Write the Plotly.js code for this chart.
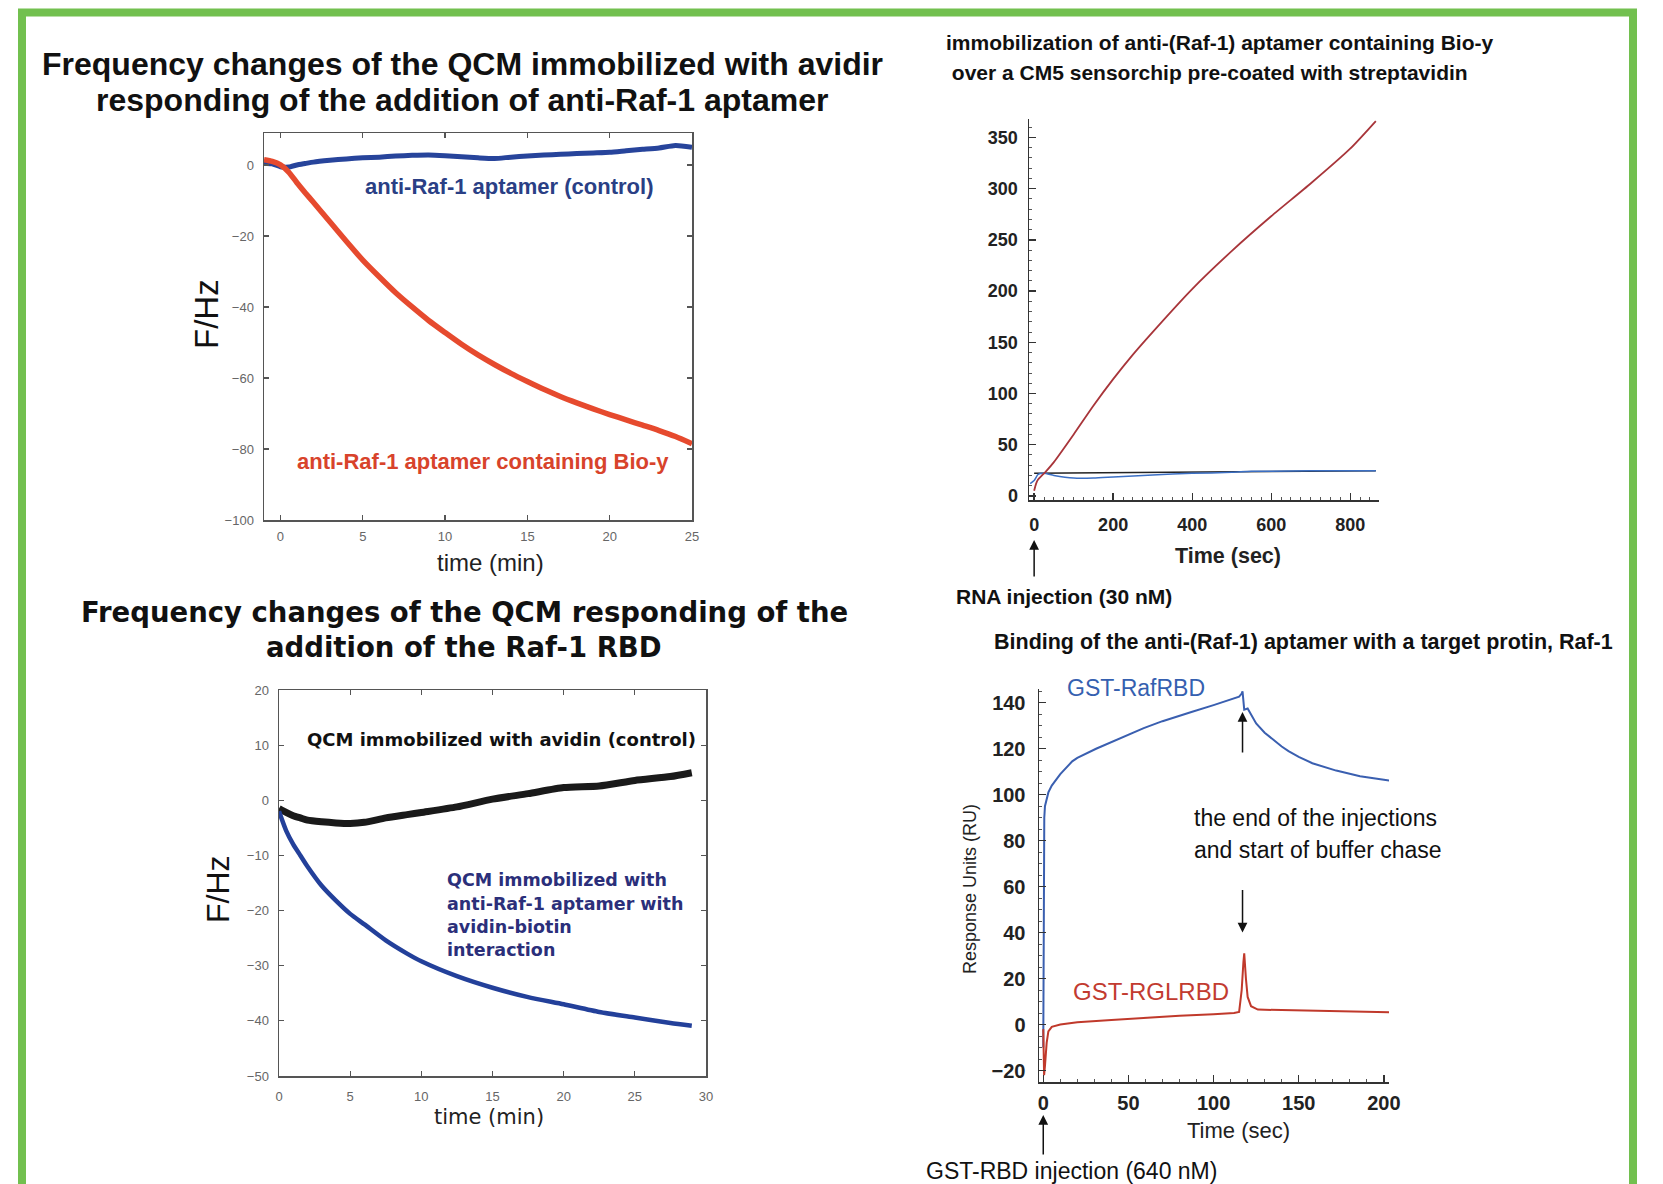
<!DOCTYPE html>
<html>
<head>
<meta charset="utf-8">
<script src="https://cdn.plot.ly/plotly-3.0.1.min.js"></script>
<style>html,body{margin:0;padding:0;background:#fff;}#chart{width:1663px;height:1184px;}</style>
</head>
<body>
<div id="chart"></div>
<script>
// ---- Panel 1: QCM with avidin, addition of anti-Raf-1 aptamer ----
const p1Time = [-1,-0.5,0,0.5,1,1.5,2,3,4,5,6,7,8,9,10,11,12,13,14,15,16,17,18,19,20,21,22,23,24,25];
const p1Control = [0.5,0.3,-0.5,-0.6,0,0.4,0.8,1.3,1.7,2.0,2.2,2.5,2.7,2.8,2.6,2.3,2.0,1.8,2.2,2.5,2.8,3.0,3.2,3.4,3.6,4.0,4.4,4.8,5.5,5.0];
const p1Bio = [1.5,1.0,0,-2,-5,-7.8,-10.5,-16,-21.5,-26.8,-31.5,-36,-40,-43.8,-47.2,-50.5,-53.5,-56.2,-58.7,-61,-63.2,-65.2,-67,-68.7,-70.3,-71.8,-73.3,-74.8,-76.5,-78.5];
const p1XTicks = [0,5,10,15,20,25];
const p1YTicks = [0,-20,-40,-60,-80,-100];

// ---- Panel 2: QCM responding to Raf-1 RBD ----
const p2Time = [0,0.5,1,1.5,2,3,4,5,6,7.5,9,10,12.5,15,17.5,20,22.5,25,27.5,29];
const p2Control = [-1.5,-2.2,-2.8,-3.2,-3.6,-3.9,-4.1,-4.2,-4.0,-3.2,-2.6,-2.2,-1.2,0.2,1.2,2.3,2.6,3.6,4.3,5.0];
const p2Aptamer = [-2,-5.5,-8,-10,-12,-15.5,-18.2,-20.6,-22.5,-25.4,-27.8,-29.2,-31.9,-34,-35.7,-37,-38.4,-39.4,-40.4,-40.9];
const p2XTicks = [0,5,10,15,20,25,30];
const p2YTicks = [20,10,0,-10,-20,-30,-40,-50];

// ---- Panel 3: immobilization on CM5 sensorchip ----
const p3BioTime = [0,5,10,20,30,50,100,150,200,250,300,400,500,600,700,800,865];
const p3Bio = [5,12,16,20,24,33,60,88,114,138,160,202,239,273,305,339,366];
const p3CtrlTime = [-10,0,10,25,50,100,150,200,300,400,500,550,600,700,865];
const p3Ctrl = [12,15,21,22,20,17.5,17.5,18.5,20.5,22,23,24,24,24.5,24.5];
const p3RefTime = [0,865];
const p3Ref = [22,24.5];

// ---- Panel 4: binding with target protein ----
const p4RafTime = [0,0.3,0.6,1,2,3,5,10,17,20,31,40,50,59,70,80,87,100,110,115,116.5,117,118,120,125,130,140,144,150,158,172,186,200,205];
const p4Raf = [-10,60,90,95,98,101,104,109,114.5,116,120,123,126,129,132,134.5,136,139,141.5,142.7,144,145,137,137.5,131,127,121,119,116.5,113.7,110.5,108,106.5,106];
const p4RglTime = [0,0.5,1,2,3,5,10,20,40,60,80,100,112,115,116.5,117.5,118,119,120,122,126,140,160,180,200,205];
const p4Rgl = [-2,-22,-18,-8,-3,-1,0,1,2,3,3.8,4.5,5,5.5,15,27,31,20,12,8,6.5,6.3,6,5.8,5.5,5.3];

const W = 1663, H = 1184;
const px = v => v / W;
const py = v => 1 - v / H;
const SANS = 'Liberation Sans, Arial, sans-serif';
const WIDE = 'DejaVu Sans, Verdana, sans-serif';

const traces = [
  {x:p1Time, y:p1Control, xaxis:'x', yaxis:'y', mode:'lines', line:{color:'#27449b', width:5, shape:'spline', smoothing:0.6}},
  {x:p1Time, y:p1Bio, xaxis:'x', yaxis:'y', mode:'lines', line:{color:'#e64a2e', width:5.5, shape:'spline', smoothing:0.6}},
  {x:p2Time, y:p2Control, xaxis:'x2', yaxis:'y2', mode:'lines', line:{color:'#1a1a1a', width:7, shape:'spline', smoothing:0.6}},
  {x:p2Time, y:p2Aptamer, xaxis:'x2', yaxis:'y2', mode:'lines', line:{color:'#23409a', width:4.5, shape:'spline', smoothing:0.6}},
  {x:p3RefTime, y:p3Ref, xaxis:'x3', yaxis:'y3', mode:'lines', line:{color:'#222', width:1.5}},
  {x:p3CtrlTime, y:p3Ctrl, xaxis:'x3', yaxis:'y3', mode:'lines', line:{color:'#3b6fc4', width:1.5, shape:'spline', smoothing:0.6}},
  {x:p3BioTime, y:p3Bio, xaxis:'x3', yaxis:'y3', mode:'lines', line:{color:'#a8353a', width:1.8, shape:'spline', smoothing:0.6}},
  {x:p4RafTime, y:p4Raf, xaxis:'x4', yaxis:'y4', mode:'lines', line:{color:'#3a5fb0', width:2}},
  {x:p4RglTime, y:p4Rgl, xaxis:'x4', yaxis:'y4', mode:'lines', line:{color:'#c0392b', width:2}}
];

const smallTick = {family:SANS, size:13, color:'#666'};
const tick3 = {family:SANS, size:18, color:'#222', weight:'bold'};
const tick4 = {family:SANS, size:20, color:'#222', weight:'bold'};

function boxAxis(domain, range, vals, standoff){
  return {domain:domain, range:range, tickmode:'array', tickvals:vals, ticks:'inside', ticklen:5,
    tickcolor:'#555', tickwidth:1.2, showline:true, linecolor:'#555', linewidth:1.5, mirror:'ticks',
    showgrid:false, zeroline:false, tickfont:smallTick, ticklabelstandoff:standoff, fixedrange:true};
}
function openAxis(domain, range, dtick, minor, standoff, font){
  return {domain:domain, range:range, tick0:0, dtick:dtick, ticks:'inside', ticklen:7, tickwidth:1.3,
    tickcolor:'#333', showline:true, linecolor:'#333', linewidth:1.5, mirror:false,
    minor:{dtick:minor, ticks:'inside', ticklen:3, tickcolor:'#555', tickwidth:1},
    showgrid:false, zeroline:false, tickfont:font, ticklabelstandoff:standoff, fixedrange:true};
}

const layout = {
  width:W, height:H, margin:{l:0,r:0,t:0,b:0}, showlegend:false,
  paper_bgcolor:'#fff', plot_bgcolor:'rgba(0,0,0,0)',
  xaxis: Object.assign(boxAxis([px(264),px(692)],[-1,25],p1XTicks,4),{anchor:'y'}),
  yaxis: Object.assign(boxAxis([py(520),py(133)],[-100,9],p1YTicks,6),{anchor:'x'}),
  xaxis2: Object.assign(boxAxis([px(279),px(706)],[0,30],p2XTicks,8),{anchor:'y2'}),
  yaxis2: Object.assign(boxAxis([py(1076),py(690)],[-50,20],p2YTicks,6),{anchor:'x2'}),
  xaxis3: Object.assign(openAxis([px(1029),px(1379)],[-13,873],200,25,8,tick3),{anchor:'y3'}),
  yaxis3: Object.assign(openAxis([py(500),py(119)],[-4,368],50,10,6,tick3),{anchor:'x3'}),
  xaxis4: Object.assign(openAxis([px(1039),px(1389)],[-2.5,203],50,10,2,tick4),{anchor:'y4'}),
  yaxis4: Object.assign(openAxis([py(1082),py(689)],[-25,146],20,5,8,tick4),{anchor:'x4'}),
  shapes:[
    {type:'rect', xref:'paper', yref:'paper', x0:px(22), x1:px(1633), y0:-0.05, y1:py(12.5),
     line:{color:'#72c04f', width:8}, fillcolor:'rgba(0,0,0,0)', layer:'above'}
  ],
  annotations:[]
};

const A = layout.annotations;
function txt(text, x, y, opt){
  A.push(Object.assign({text:text, xref:'paper', yref:'paper', x:px(x), y:py(y), showarrow:false,
    xanchor:'center', yanchor:'middle',
    font:{family:SANS, size:16, color:'#111'}}, opt||{}));
}

// Panel 1 texts
const t1Font = {family:SANS, size:32, color:'#111', weight:'bold'};
txt('Frequency changes of the QCM immobilized with avidir', 462, 64, {font:t1Font});
txt('responding of the addition of anti-Raf-1 aptamer', 462, 100, {font:t1Font});
txt('F/Hz', 207, 314, {textangle:-90, font:{family:SANS, size:33, color:'#111'}});
txt('time (min)', 490, 562, {font:{family:SANS, size:24, color:'#222'}});
txt('anti-Raf-1 aptamer (control)', 509, 186, {font:{family:SANS, size:22, color:'#2a3f85', weight:'bold'}});
txt('anti-Raf-1 aptamer containing Bio-y', 483, 461, {font:{family:SANS, size:22, color:'#d8432b', weight:'bold'}});

// Panel 2 texts
const t2Font = {family:WIDE, size:27.5, color:'#111', weight:'bold'};
txt('Frequency changes of the QCM responding of the', 464, 612, {font:t2Font});
txt('addition of the Raf-1 RBD', 464, 647, {font:t2Font});
txt('F/Hz', 218, 889, {textangle:-90, font:{family:SANS, size:32, color:'#111'}});
txt('time (min)', 489, 1117, {font:{family:WIDE, size:21, color:'#222'}});
txt('QCM immobilized with avidin (control)', 502, 739, {font:{family:WIDE, size:18, color:'#111', weight:'bold'}});
const navy = {family:WIDE, size:17.5, color:'#2b2f7a', weight:'bold'};
txt('QCM immobilized with', 445, 880, {xanchor:'left', font:navy});
txt('anti-Raf-1 aptamer with', 445, 904, {xanchor:'left', font:navy});
txt('avidin-biotin', 445, 927, {xanchor:'left', font:navy});
txt('interaction', 445, 950, {xanchor:'left', font:navy});

// Panel 3 texts
const t3Font = {family:SANS, size:21, color:'#111', weight:'bold'};
txt('immobilization of anti-(Raf-1) aptamer containing Bio-y', 944, 42, {xanchor:'left', font:t3Font});
txt(' over a CM5 sensorchip pre-coated with streptavidin', 944, 72, {xanchor:'left', font:t3Font});
txt('Time (sec)', 1228, 556, {font:{family:SANS, size:21.5, color:'#222', weight:'bold'}});
txt('RNA injection (30 nM)', 1064, 596, {font:{family:SANS, size:21, color:'#111', weight:'bold'}});
A.push({text:'', xref:'x3', yref:'paper', x:0, y:py(540), ax:0, ay:38, showarrow:true,
  arrowhead:2, arrowsize:1.3, arrowwidth:1.5, arrowcolor:'#111'});

// Panel 4 texts
txt('Binding of the anti-(Raf-1) aptamer with a target protin, Raf-1', 1303, 642, {font:{family:SANS, size:21.5, color:'#111', weight:'bold'}});
txt('Response Units (RU)', 970, 889, {textangle:-90, font:{family:SANS, size:18, color:'#222'}});
txt('Time (sec)', 1238, 1130, {font:{family:SANS, size:22, color:'#222'}});
txt('GST-RafRBD', 1136, 688, {font:{family:SANS, size:23, color:'#3560b0'}});
txt('GST-RGLRBD', 1151, 991, {font:{family:SANS, size:24, color:'#c23b30'}});
txt('the end of the injections', 1315, 818, {font:{family:SANS, size:23, color:'#111'}});
txt('and start of buffer chase', 1318, 850, {font:{family:SANS, size:23, color:'#111'}});
txt('GST-RBD injection (640 nM)', 1071, 1171, {font:{family:SANS, size:23, color:'#111'}});
A.push({text:'', xref:'x4', yref:'y4', x:117, y:136, ax:0, ay:42, showarrow:true,
  arrowhead:2, arrowsize:1.3, arrowwidth:1.5, arrowcolor:'#111'});
A.push({text:'', xref:'x4', yref:'y4', x:117, y:40, ax:0, ay:-44, showarrow:true,
  arrowhead:2, arrowsize:1.3, arrowwidth:1.5, arrowcolor:'#111'});
A.push({text:'', xref:'x4', yref:'paper', x:0, y:py(1115), ax:0, ay:41, showarrow:true,
  arrowhead:2, arrowsize:1.3, arrowwidth:1.5, arrowcolor:'#111'});

Plotly.newPlot('chart', traces, layout, {displayModeBar:false, staticPlot:true});
</script>
</body>
</html>
